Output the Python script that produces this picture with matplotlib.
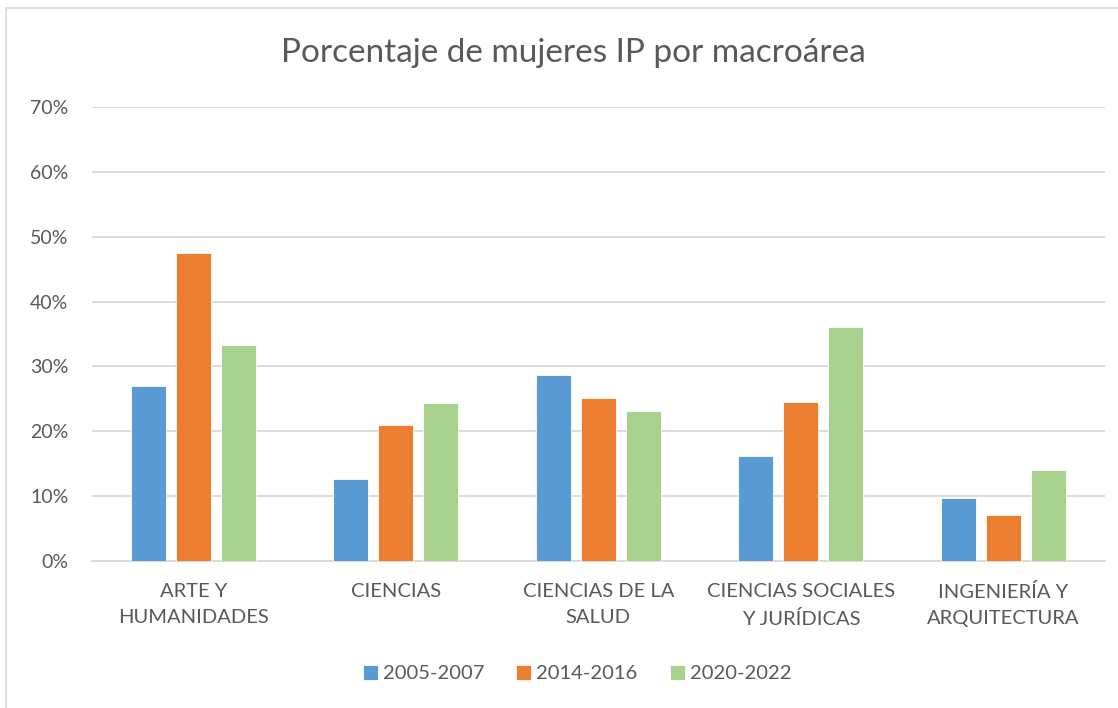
import matplotlib.pyplot as plt
import numpy as np
from matplotlib.patches import Rectangle

categorias = ['ARTE Y\nHUMANIDADES', 'CIENCIAS', 'CIENCIAS DE LA\nSALUD',
              'CIENCIAS SOCIALES\nY JURÍDICAS', 'INGENIERÍA Y\nARQUITECTURA']
series = ['2005-2007', '2014-2016', '2020-2022']
v2005 = [0.270, 0.126, 0.286, 0.162, 0.097]
v2014 = [0.475, 0.209, 0.251, 0.245, 0.071]
v2020 = [0.333, 0.243, 0.231, 0.360, 0.140]
colores = ['#5B9BD5', '#ED7D31', '#A9D18E']
yticks = [0, 0.1, 0.2, 0.3, 0.4, 0.5, 0.6, 0.7]

plt.rcParams['font.family'] = ['Lato', 'DejaVu Sans']
gris = '#595959'

fig = plt.figure(figsize=(11.18, 7.08), dpi=100)
ax = fig.add_axes([0.0823, 0.2076, 0.9057, 0.6414])

# marco del grafico
fig.patches.append(Rectangle((6 / 1118, -0.01), 1.1, 1 - 8 / 708 + 0.01,
                             transform=fig.transFigure, fill=False,
                             edgecolor='#d9d9d9', linewidth=1.2))

x = np.arange(len(categorias))
ancho = 0.173
paso = 0.222
for i, vals in enumerate([v2005, v2014, v2020]):
    ax.bar(x + (i - 1) * paso, vals, width=ancho, color=colores[i],
           edgecolor='white', linewidth=0.6, label=series[i], zorder=3)

ax.set_xlim(-0.5, len(categorias) - 0.5)
ax.set_ylim(0, 0.7)
ax.set_yticks(yticks)
ax.set_yticklabels([f'{int(round(t * 100))}%' for t in yticks])
ax.yaxis.grid(True, color='#d9d9d9', linewidth=1.3, zorder=0)
ax.set_axisbelow(True)
for s in ['top', 'right', 'left']:
    ax.spines[s].set_visible(False)
ax.spines['bottom'].set_color('#d9d9d9')
ax.spines['bottom'].set_linewidth(1.3)
ax.tick_params(axis='both', length=0, colors=gris, labelsize=14)
ax.tick_params(axis='y', pad=17)
ax.tick_params(axis='x', pad=16, labelsize=14.5)
ax.set_xticks(x)
ax.set_xticklabels(categorias, linespacing=1.65)

fig.text(0.513, 1 - 53 / 708, 'Porcentaje de mujeres IP por macroárea',
         ha='center', va='center', fontsize=24, color=gris)

ax.legend(loc='center', bbox_to_anchor=(0.479, -0.248), ncol=3, frameon=False,
          fontsize=14.5, labelcolor=gris, handlelength=0.75, handleheight=0.75,
          handletextpad=0.25, columnspacing=1.6)

fig.savefig('out.png', dpi=100)
